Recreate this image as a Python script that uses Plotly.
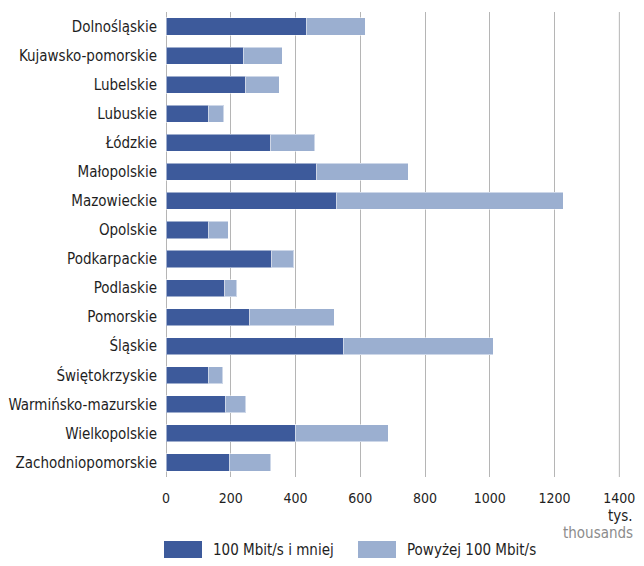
import plotly.graph_objects as go

regions = ["Dolnośląskie", "Kujawsko-pomorskie", "Lubelskie", "Lubuskie", "Łódzkie",
           "Małopolskie", "Mazowieckie", "Opolskie", "Podkarpackie", "Podlaskie",
           "Pomorskie", "Śląskie", "Świętokrzyskie", "Warmińsko-mazurskie",
           "Wielkopolskie", "Zachodniopomorskie"]
low_speed = [433, 239, 246, 130, 323, 466, 526, 130, 327, 181, 259, 547, 130, 183, 399, 196]
high_speed = [183, 120, 104, 48, 136, 282, 700, 62, 67, 38, 260, 463, 46, 63, 287, 127]
series_names = ["100 Mbit/s i mniej", "Powyżej 100 Mbit/s"]
x_ticks = [0, 200, 400, 600, 800, 1000, 1200, 1400]

DARK = "#3d5a9b"
LIGHT = "#9bafd0"
GRID = "#b5b5b5"
FONT = "DejaVu Sans Condensed, Liberation Sans Narrow, sans-serif"

# the page body has an 8px margin; keep the figure inside the window
W, H = 636, 550
L, R, T, B = 158, 24, 4, 81
PW, PH = W - L - R, H - T - B


def px(xfig):
    return (xfig - L) / PW


def py(yfig):
    return (H - B - yfig) / PH


fig = go.Figure()
fig.add_trace(go.Bar(y=regions, x=low_speed, orientation="h", name=series_names[0],
                     marker=dict(color=DARK, line=dict(color="rgba(255,255,255,0.5)", width=1))))
fig.add_trace(go.Bar(y=regions, x=high_speed, orientation="h", name=series_names[1],
                     marker=dict(color=LIGHT, line=dict(color="rgba(255,255,255,0.5)", width=1))))

fig.update_layout(
    barmode="stack",
    bargap=0.41,
    width=W, height=H,
    margin=dict(l=L, r=R, t=T, b=B, autoexpand=False),
    paper_bgcolor="white", plot_bgcolor="white",
    font=dict(family=FONT, size=15, color="#1e1e1e"),
    showlegend=False,
    xaxis=dict(range=[0, 1402], tickvals=x_ticks, showgrid=True, gridcolor=GRID,
               gridwidth=1, zeroline=True, zerolinecolor=GRID, zerolinewidth=1,
               showline=False, ticks="", ticklabelstandoff=11, ticklabeloverflow="allow",
               tickfont=dict(size=14, color="#1e1e1e"), fixedrange=True),
    yaxis=dict(autorange="reversed", showgrid=False, ticks="", ticklabelstandoff=8,
               showline=False,
               tickfont=dict(size=15, color="#1e1e1e"), fixedrange=True),
)

# last gridline (at the final tick), which plotly drops near the plot edge
fig.add_shape(type="line", xref="x", yref="paper", x0=x_ticks[-1], x1=x_ticks[-1],
              y0=0, y1=1, line=dict(color=GRID, width=1), layer="below")

# axis unit labels
fig.add_annotation(x=px(627), xref="paper", y=py(508), yref="paper", text="tys.",
                   showarrow=False, xanchor="right", yanchor="middle",
                   font=dict(size=15, color="#1e1e1e"))
fig.add_annotation(x=px(627), xref="paper", y=py(525), yref="paper", text="thousands",
                   showarrow=False, xanchor="right", yanchor="middle",
                   font=dict(size=15, color="#8c8c8c"))

# legend drawn manually
legend_items = [(series_names[0], DARK, 156), (series_names[1], LIGHT, 350)]
for name, col, x0 in legend_items:
    fig.add_shape(type="rect", xref="paper", yref="paper",
                  x0=px(x0), x1=px(x0 + 38), y0=py(550), y1=py(533),
                  line=dict(width=0), fillcolor=col)
    fig.add_annotation(x=px(x0 + 47), xref="paper", y=py(542), yref="paper",
                       text=name, showarrow=False, xanchor="left", yanchor="middle",
                       font=dict(size=15, color="#1e1e1e"))

fig.write_html("out.html")
